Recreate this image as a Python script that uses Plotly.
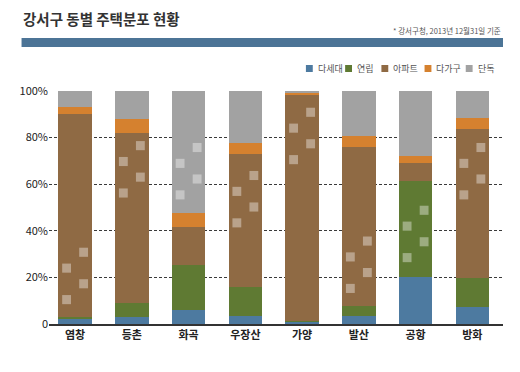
import plotly.graph_objects as go

categories = ["염창", "등촌", "화곡", "우장산", "가양", "발산", "공항", "방화"]
series_names = ["다세대", "연립", "아파트", "다가구", "단독"]
dasedae = [2.0, 3.0, 6.0, 3.5, 1.0, 3.3, 20.0, 7.3]
yeonrip = [1.0, 6.0, 19.5, 12.5, 0.5, 4.5, 41.3, 12.3]
apartment = [87.0, 73.0, 16.0, 57.0, 96.5, 68.2, 7.7, 63.8]
dagagu = [3.0, 6.0, 6.0, 4.5, 1.2, 4.4, 2.8, 4.8]
dandok = [7.0, 12.0, 52.5, 22.5, 0.8, 19.6, 28.2, 11.8]
y_tick_vals = [0, 20, 40, 60, 80, 100]
y_tick_text = ["0", "20%", "40%", "60%", "80%", "100%"]
# decorative square pattern centres (per bar, in % units)
pattern_center = [20.6, 66.3, 65.5, 53.5, 80.6, 25.4, 38.6, 65.5]

colors = ["#4d7aa0", "#5f7a33", "#8f6a44", "#d5812f", "#a2a2a2"]
values = [dasedae, yeonrip, apartment, dagagu, dandok]
FONT = "Noto Sans CJK KR"

fig = go.Figure()
xs = list(range(len(categories)))
for name, vals, col in zip(series_names, values, colors):
    fig.add_trace(go.Bar(x=xs, y=vals, name=name, marker_color=col,
                         marker_line_width=0, width=0.59, showlegend=False))

shapes = []
# decorative squares
sw, sh = 0.078, 1.95
for i, c in enumerate(pattern_center):
    for dx, dy in [(0.15, 10.15), (-0.15, 3.35), (0.15, -3.35), (-0.15, -10.15)]:
        shapes.append(dict(type="rect", xref="x", yref="y",
                           x0=i + dx - sw, x1=i + dx + sw, y0=c + dy - sh, y1=c + dy + sh,
                           fillcolor="rgba(255,255,255,0.38)", line_width=0, layer="above"))
# header band
shapes.append(dict(type="rect", xref="paper", yref="paper",
                   x0=-28/463, x1=1.0, y0=(324-47)/234, y1=(324-38)/234,
                   fillcolor="#4c7496", line_width=0))

annotations = [
    dict(text="<b>강서구 동별 주택분포 현황</b>", xref="paper", yref="paper",
         x=-29/463, y=(324-6)/234, xanchor="left", yanchor="top", showarrow=False,
         font=dict(family=FONT, size=14.5, color="#333333")),
    dict(text="* 강서구청, 2013년 12월31일 기준", xref="paper", yref="paper",
         x=1.0, y=(324-23)/234, xanchor="right", yanchor="top", showarrow=False,
         font=dict(family=FONT, size=7.5, color="#555555")),
]
# manual legend
lx = 302
widths = [40, 37, 44, 42, 30]
for name, col, w in zip(series_names, colors, widths):
    x0 = (lx - 40) / 463
    shapes.append(dict(type="rect", xref="paper", yref="paper",
                       x0=x0, x1=x0 + 7/463, y0=(324-72)/234, y1=(324-65)/234,
                       fillcolor=col, line_width=0))
    annotations.append(dict(text=name, xref="paper", yref="paper",
                            x=(lx - 40 + 10) / 463, y=(324-68.5)/234, xanchor="left",
                            yanchor="middle", showarrow=False,
                            font=dict(family=FONT, size=9, color="#555555")))
    lx += w

# page body has an 8px margin, so the figure is offset by 8px
fig.update_layout(
    barmode="stack",
    width=512, height=356,
    margin=dict(l=32, r=17, t=82, b=40),
    paper_bgcolor="white", plot_bgcolor="white",
    shapes=shapes, annotations=annotations,
    xaxis=dict(tickvals=xs, ticktext=categories, range=[-0.46, 7.54],
               showline=True, linecolor="#333333", linewidth=2, ticks="",
               showgrid=False, zeroline=False, fixedrange=True,
               tickfont=dict(family=FONT, size=11, color="#222222", weight="bold")),
    yaxis=dict(range=[0, 100.3], tickvals=y_tick_vals, ticktext=y_tick_text,
               showgrid=True, gridcolor="#3a3a3a", griddash="3px,2px", gridwidth=1,
               zeroline=False, ticks="", showline=False,
               tickfont=dict(family=FONT, size=11, color="#222222")),
)
fig.write_html("out.html")
